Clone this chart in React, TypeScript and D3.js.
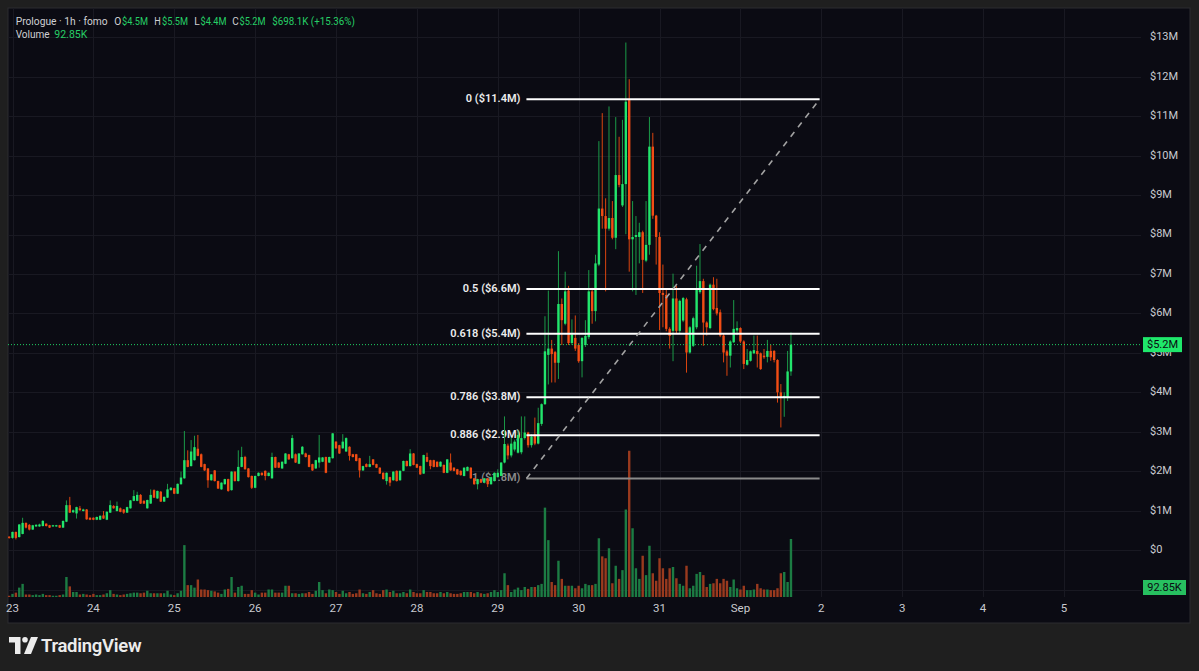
import React from "react";
import * as d3 from "d3";

// Hourly candles [open, high, low, close] in $M, first candle at Aug 22 23:00
const candles: [number, number, number, number][] = [
  // Aug 22 23:00 – Aug 24
  [0.34,0.35,0.29,0.31],[0.31,0.47,0.29,0.46],[0.46,0.47,0.27,0.31],[0.33,0.66,0.32,0.65],[0.41,0.82,0.40,0.69],
  [0.69,0.70,0.55,0.57],[0.64,0.66,0.50,0.52],[0.52,0.64,0.51,0.63],[0.60,0.66,0.59,0.64],[0.60,0.67,0.59,0.65],
  [0.61,0.76,0.60,0.74],[0.67,0.68,0.60,0.61],[0.63,0.64,0.56,0.57],[0.60,0.64,0.59,0.63],[0.60,0.64,0.59,0.63],
  [0.63,0.64,0.56,0.57],[0.57,0.75,0.56,0.74],[0.72,1.26,0.71,1.14],[1.14,1.35,0.94,0.95],[0.96,1.03,0.94,1.01],
  [0.93,1.10,0.80,1.09],[1.06,1.12,1.00,1.01],[0.99,1.05,0.98,1.03],[1.03,1.04,0.77,0.78],[0.82,0.83,0.76,0.77],
  [0.82,0.83,0.76,0.77],[0.77,0.85,0.76,0.84],[0.77,0.88,0.76,0.87],[0.88,0.99,0.79,0.80],[0.77,0.99,0.76,0.97],
  [0.95,1.26,0.94,1.14],[1.12,1.14,1.05,1.06],[0.99,1.23,0.98,1.12],[1.06,1.08,0.96,0.97],[1.03,1.04,0.92,0.95],
  [0.95,1.10,0.94,1.09],[1.06,1.27,1.05,1.26],[1.25,1.52,1.24,1.37],[1.25,1.48,1.24,1.40],[1.40,1.42,1.17,1.18],
  [1.25,1.26,1.17,1.18],[1.06,1.28,1.05,1.27],[1.18,1.54,1.17,1.40],[1.52,1.54,1.32,1.33],[1.31,1.51,1.30,1.50],
  [1.48,1.50,1.22,1.23],[1.23,1.36,1.22,1.35],[1.33,1.68,1.32,1.54],[1.52,1.60,1.51,1.58],[1.57,1.58,1.42,1.43],
  [1.43,1.69,1.42,1.68],[1.67,1.99,1.66,1.84],
  // Aug 25 – 26
  [1.82,3.02,1.81,2.28],[2.28,2.53,2.10,2.11],[2.13,2.79,2.12,2.50],[2.28,2.90,2.27,2.61],[2.57,2.92,2.38,2.39],
  [2.43,2.45,2.10,2.11],[2.18,2.19,2.01,2.02],[2.07,2.08,1.58,1.77],[1.77,1.93,1.76,1.92],[2.02,2.03,1.74,1.75],
  [1.75,1.76,1.55,1.56],[1.54,1.72,1.53,1.71],[1.67,1.81,1.66,1.80],[1.80,1.81,1.48,1.50],[1.52,2.00,1.51,1.99],
  [1.99,2.00,1.74,1.75],[1.75,2.53,1.74,2.11],[2.11,2.62,2.10,2.36],[2.36,2.39,2.04,2.05],[2.07,2.08,1.84,1.85],
  [1.88,1.89,1.55,1.58],[1.58,1.89,1.57,1.88],[1.88,1.97,1.87,1.96],[1.96,1.97,1.89,1.90],[2.01,2.02,1.77,1.88],
  [1.88,1.97,1.87,1.96],[1.82,2.47,1.81,2.36],[2.36,2.37,2.08,2.09],[2.22,2.23,2.08,2.09],[2.07,2.25,2.06,2.24],
  [2.19,2.46,2.18,2.45],[2.43,2.44,2.29,2.30],[2.33,2.92,2.32,2.84],[2.43,2.45,2.21,2.22],[2.19,2.46,2.18,2.45],
  [2.43,2.64,2.42,2.62],[2.45,2.47,2.35,2.36],[2.41,2.42,2.10,2.11],[2.18,2.19,2.01,2.02],[2.07,2.29,2.06,2.28],
  // Aug 27 – 28
  [2.22,2.92,2.09,2.35],[2.24,2.36,2.23,2.35],[2.36,2.37,1.95,1.96],[2.22,2.37,2.21,2.36],[2.33,2.97,2.32,2.96],
  [2.75,2.76,2.57,2.58],[2.66,2.67,2.44,2.45],[2.58,2.94,2.57,2.75],[2.50,2.86,2.49,2.84],[2.62,2.63,2.27,2.39],
  [2.43,2.44,2.35,2.36],[2.43,2.44,2.25,2.26],[2.33,2.34,1.84,2.02],[2.02,2.14,2.01,2.13],[2.18,2.20,2.10,2.11],
  [2.11,2.39,2.10,2.18],[2.30,2.31,2.15,2.16],[2.18,2.19,2.08,2.09],[2.09,2.10,1.93,1.94],[1.96,1.97,1.79,1.80],
  [1.75,1.97,1.66,1.96],[1.85,1.86,1.62,1.71],[1.77,2.00,1.76,1.99],[2.01,2.02,1.74,1.75],[1.77,2.02,1.76,2.01],
  [2.01,2.27,2.00,2.26],[2.26,2.27,2.12,2.13],[2.13,2.56,2.12,2.45],[2.45,2.46,2.15,2.16],[2.18,2.19,2.08,2.09],
  [2.13,2.14,1.91,1.92],[1.94,2.42,1.93,2.41],[2.36,2.47,2.23,2.24],[2.28,2.29,2.05,2.13],[2.28,2.29,2.10,2.11],
  [2.24,2.25,2.10,2.11],[2.12,2.25,2.11,2.24],[2.16,2.17,1.95,1.96],[1.96,2.31,1.95,2.30],[2.22,2.45,2.01,2.02],
  [2.09,2.10,2.00,2.01],[2.05,2.06,1.91,1.92],[2.01,2.02,1.89,1.90],[1.88,2.10,1.87,2.09],[2.01,2.12,2.00,2.11],
  [2.09,2.10,1.81,1.82],[1.82,1.83,1.66,1.67],[1.67,1.81,1.54,1.80],[1.80,1.81,1.70,1.71],[1.71,1.83,1.70,1.82],
  [1.82,1.83,1.60,1.67],[1.67,1.86,1.66,1.85],[1.75,1.97,1.74,1.96],[1.85,2.05,1.84,1.96],[1.88,2.23,1.87,2.22],
  // Aug 29 – 30
  [2.22,3.39,2.20,2.69],[2.65,2.70,2.30,2.40],[2.40,2.85,2.35,2.70],[2.55,2.80,2.50,2.75],[2.47,3.05,2.45,2.92],
  [2.48,3.39,2.43,2.84],[2.84,3.39,2.80,2.98],[2.98,3.00,2.60,2.66],[2.66,2.94,2.60,2.88],[2.93,3.36,2.66,2.70],
  [2.70,3.61,2.68,3.22],[3.20,3.72,3.15,3.70],[3.70,5.93,3.68,5.04],[4.95,6.58,4.20,5.11],[5.11,5.33,4.25,4.97],
  [5.02,5.05,4.25,4.75],[4.75,7.58,4.34,6.24],[6.24,6.38,5.20,5.83],[5.74,7.06,5.70,6.56],[6.58,6.70,5.20,5.25],
  [5.25,5.85,5.20,5.47],[5.38,5.95,5.05,5.11],[5.20,5.25,4.75,4.79],[4.79,5.40,4.38,5.38],[5.20,5.83,5.15,5.43],
  [5.40,7.10,5.35,6.56],[6.56,6.65,5.74,6.06],[6.06,7.49,5.80,7.27],[7.24,10.37,7.20,8.66],[8.66,11.08,8.15,8.47],
  [8.47,8.92,6.56,8.15],[8.15,11.25,8.10,8.42],[8.42,8.85,7.88,7.92],[7.92,10.98,7.63,9.51],[9.51,10.48,9.20,9.26],
  [8.74,10.91,8.70,9.28],[9.28,12.87,8.01,11.37],[11.41,11.94,7.06,7.88],[7.88,8.85,6.56,7.94],[7.94,8.47,6.47,7.99],
  [7.94,8.30,7.27,8.06],[8.06,8.10,6.52,7.36],[7.34,8.85,7.30,7.74],[7.74,10.98,7.49,10.23],[10.23,10.58,8.40,8.48],
  // Aug 31 – Sep 1
  [8.48,8.50,7.24,7.94],[7.94,8.06,5.58,6.52],[6.52,7.24,5.65,6.47],[6.47,6.63,5.55,5.61],[5.61,5.65,5.11,5.43],
  [5.56,7.01,4.79,6.38],[6.38,6.70,5.50,5.56],[5.56,6.35,5.50,6.32],[5.82,6.42,5.78,6.39],[6.36,6.40,4.50,5.01],
  [5.01,5.68,4.98,5.65],[5.18,5.92,5.15,5.88],[5.65,7.21,5.60,6.62],[6.54,7.76,6.50,6.82],[6.82,6.88,5.18,5.77],
  [5.77,5.80,5.44,5.65],[5.63,6.76,5.60,6.73],[6.73,6.92,6.08,6.11],[6.14,6.88,5.95,6.00],[6.03,6.10,5.40,5.44],
  [5.44,5.50,4.76,5.01],[5.04,5.08,4.42,4.93],[4.93,5.32,4.63,5.29],[5.27,6.34,5.25,5.61],[5.57,5.80,5.45,5.63],
  [5.63,5.65,5.25,5.29],[5.29,5.32,4.59,4.72],[4.70,5.10,4.68,4.82],[4.80,5.06,4.78,5.04],[4.99,5.44,4.97,5.07],
  [5.05,5.44,4.63,4.97],[4.99,5.01,4.57,4.59],[4.93,5.10,4.85,4.89],[4.90,5.33,4.76,5.05],[5.05,5.21,4.80,4.89],
  [5.05,5.07,4.76,4.82],[4.82,4.84,3.74,4.00],[4.00,4.21,3.11,3.87],[3.87,4.00,3.38,3.91],[3.87,5.05,3.78,4.53],
  [4.53,5.52,4.42,5.21],
];

// Hourly volume in K, aligned with candles
const volumes: number[] = [
  2,5,7,15,21,4,4,3,4,
  3,5,3,3,2,2,3,4,32,17,
  8,8,4,5,4,3,5,3,3,4,
  6,11,5,4,3,4,5,6,7,7,
  6,7,10,6,6,6,6,6,10,4,
  3,6,10,83,19,19,15,28,12,12,
  11,10,9,7,5,12,13,32,7,16,
  18,5,5,11,7,4,7,7,12,12,
  7,7,7,
  18,18,6,6,5,6,6,8,5,10,
  24,11,6,12,11,8,5,10,6,8,
  5,6,12,6,5,8,11,6,5,11,
  12,8,10,6,6,8,6,12,8,6,
  6,11,8,8,6,6,8,6,8,6,
  5,5,6,8,8,8,6,8,6,5,
  6,8,11,8,11,
  38,19,8,12,15,
  11,16,13,16,16,19,21,143,91,24,
  19,58,29,18,18,18,14,18,14,21,
  19,19,21,94,65,62,78,22,50,29,
  43,140,234,110,46,29,66,35,82,38,
  26,62,46,29,46,48,30,21,18,50,
  14,18,37,40,35,16,21,22,29,22,
  29,26,16,28,14,12,18,11,11,12,
  21,14,12,12,11,11,14,38,40,24,
  92.85,
];

const firstHour = -1; // hours from Aug 23 00:00
const priceTicks = [0, 1, 2, 3, 4, 5, 6, 7, 8, 9, 10, 11, 12, 13];
const gridPrices = [-1, 0, 1, 2, 3, 4, 5, 6, 7, 8, 9, 10, 11, 12, 13];
const dayLabels = ["23", "24", "25", "26", "27", "28", "29", "30", "31", "Sep", "2", "3", "4", "5"];
const fibLevels = [0, 0.5, 0.618, 0.786, 0.886, 1];
const fibHigh = 11.43;
const fibLow = 1.815;
const fibStartHour = 152.5;
const fibEndHour = 239.5;
const lastVolumeLabel = "92.85K";

const legendParts = [
  { x: 15.7, w: 92, text: "Prologue · 1h · fomo", green: false },
  { x: 114.3, w: 7, text: "O", green: false },
  { x: 122, w: 26, text: "$4.5M", green: true },
  { x: 154.3, w: 6.5, text: "H", green: false },
  { x: 162, w: 26, text: "$5.5M", green: true },
  { x: 194.3, w: 5.5, text: "L", green: false },
  { x: 200.5, w: 26, text: "$4.4M", green: true },
  { x: 232.3, w: 6.5, text: "C", green: false },
  { x: 239.5, w: 26, text: "$5.2M", green: true },
  { x: 272.3, w: 82.5, text: "$698.1K (+15.36%)", green: true },
];

const FONT = "Roboto, 'Liberation Sans', sans-serif";

const fmtM = (p: number) => `$${(Math.floor(p * 10 + 1e-9) / 10).toFixed(1)}M`;

export default function App() {
  const W = 1199;
  const H = 671;
  const paneL = 8, paneT = 8, paneR = 1190, paneB = 623;
  const plotR = 1141, plotB = 597;

  const x = d3.scaleLinear().domain([0, 312]).range([12.5, 12.5 + 13 * 80.88]);
  const y = d3.scaleLinear().domain([0, 13]).range([550.1, 37.4]);
  const v = d3.scaleLinear().domain([0, 240]).range([plotB, plotB - 150]);

  const upBody = "#22e56c";
  const upWick = "#1b9a48";
  const dnBody = "#f24d14";
  const dnWick = "#d9440f";
  const upVol = "#1c7c43";
  const dnVol = "#9a3a1e";
  const bodyW = 2.4;

  const last = candles[candles.length - 1];
  const lastClose = last[3];
  const yLast = y(lastClose);

  const fx0 = x(fibStartHour);
  const fx1 = x(fibEndHour);
  const fibPrice = (l: number) => fibHigh - l * (fibHigh - fibLow);

  return (
    <svg
      width={W}
      height={H}
      style={{ position: "absolute", left: 0, top: 0, display: "block" }}
      fontFamily={FONT}
    >
      <defs>
        <clipPath id="plotClip">
          <rect x={paneL} y={paneT} width={plotR - paneL} height={plotB - paneT} />
        </clipPath>
      </defs>
      <rect x={0} y={0} width={W} height={H} fill="#1f1f1f" />
      <rect x={paneL} y={paneT} width={paneR - paneL} height={paneB - paneT} fill="#0b0b13" stroke="#2c2c30" strokeWidth={1} />

      {/* grid */}
      <g stroke="#191922" strokeWidth={1}>
        {gridPrices.map((p) => (
          <line key={"h" + p} x1={paneL} x2={plotR} y1={Math.round(y(p)) + 0.5} y2={Math.round(y(p)) + 0.5} />
        ))}
        {dayLabels.map((_, i) => (
          <line key={"v" + i} x1={Math.round(x(i * 24)) + 0.5} x2={Math.round(x(i * 24)) + 0.5} y1={paneT} y2={plotB} />
        ))}
      </g>

      {/* fib labels (behind candles) */}
      <g fontSize={11} fontWeight={600}>
        {fibLevels.map((l) => (
          <text
            key={"fl" + l}
            x={fx0 - 6}
            y={y(fibPrice(l))}
            textAnchor="end"
            dominantBaseline="middle"
            fill={l === 1 ? "#8a8a8a" : "#ededed"}
          >
            {`${l} (${fmtM(fibPrice(l))})`}
          </text>
        ))}
      </g>

      <g clipPath="url(#plotClip)">
        {/* volume */}
        {volumes.map((vol, i) => {
          const c = candles[i];
          const cx = x(firstHour + i);
          return (
            <rect
              key={"vol" + i}
              x={cx - bodyW / 2}
              y={v(vol)}
              width={bodyW}
              height={plotB - v(vol)}
              fill={c[3] >= c[0] ? upVol : dnVol}
            />
          );
        })}

        {/* candles */}
        {candles.map((c, i) => {
          const [o, h, l, cl] = c;
          const isUp = cl >= o;
          const cx = x(firstHour + i);
          const top = y(Math.max(o, cl));
          const bot = y(Math.min(o, cl));
          return (
            <g key={"c" + i}>
              <rect x={cx - 0.5} y={y(h)} width={1} height={Math.max(1, y(l) - y(h))} fill={isUp ? upWick : dnWick} />
              <rect x={cx - bodyW / 2} y={top} width={bodyW} height={Math.max(1, bot - top)} fill={isUp ? upBody : dnBody} />
            </g>
          );
        })}

        {/* fib lines */}
        {fibLevels.map((l) => (
          <line
            key={"fib" + l}
            x1={fx0}
            x2={fx1}
            y1={y(fibPrice(l))}
            y2={y(fibPrice(l))}
            stroke={l === 1 ? "#8a8a8a" : "#ffffff"}
            strokeWidth={2}
          />
        ))}
        <line
          x1={fx0}
          y1={y(fibLow)}
          x2={fx1}
          y2={y(fibHigh)}
          stroke="#a3a3a3"
          strokeWidth={1.6}
          strokeDasharray="6 6"
        />

        {/* last price line */}
        <line x1={paneL} x2={plotR} y1={yLast} y2={yLast} stroke="#1fcf63" strokeWidth={1} strokeDasharray="1 2" />
      </g>

      {/* price axis */}
      <g fontSize={11} fill="#c9cad0">
        {priceTicks.map((p) => (
          <text key={"pt" + p} x={1150} y={y(p)} dominantBaseline="middle">
            {`$${p}M`.replace("$0M", "$0")}
          </text>
        ))}
      </g>
      <rect x={1143} y={yLast - 7.5} width={39} height={15} fill="#1fe86b" />
      <text x={1162.5} y={yLast + 0.5} fontSize={11} textAnchor="middle" dominantBaseline="middle" fill="#0b0b13">
        {fmtM(lastClose)}
      </text>
      <rect x={1143} y={580} width={43} height={15} fill="#27c060" />
      <text x={1164.5} y={588} fontSize={11} textAnchor="middle" dominantBaseline="middle" fill="#0b0b13">
        {lastVolumeLabel}
      </text>

      {/* time axis */}
      <g fontSize={11.5} fill="#c9cad0" textAnchor="middle">
        {dayLabels.map((d, i) => (
          <text key={"d" + i} x={x(i * 24)} y={612}>
            {d}
          </text>
        ))}
      </g>

      {/* legend */}
      <g fontSize={11}>
        {legendParts.map((p, i) => (
          <text
            key={"lg" + i}
            x={p.x}
            y={25}
            fill={p.green ? "#26cf66" : "#cfd0d4"}
            textLength={p.w}
            lengthAdjust="spacingAndGlyphs"
          >
            {p.text}
          </text>
        ))}
        <text x={15.7} y={37.5} fill="#cfd0d4" textLength={34} lengthAdjust="spacingAndGlyphs">Volume</text>
        <text x={54.3} y={37.5} fill="#26cf66" textLength={33} lengthAdjust="spacingAndGlyphs">{lastVolumeLabel}</text>
      </g>

      {/* TradingView logo */}
      <g fill="#ececec">
        <path d="M9,637 H20.5 V654 H15 V642.5 H9 Z" />
        <circle cx={25} cy={639.8} r={2.8} />
        <path d="M31,637 H38 L31,654 H24 Z" />
        <text x={41} y={652} fontSize={18.5} fontWeight={600} fontFamily={FONT} letterSpacing={-0.3}>
          TradingView
        </text>
      </g>
    </svg>
  );
}
